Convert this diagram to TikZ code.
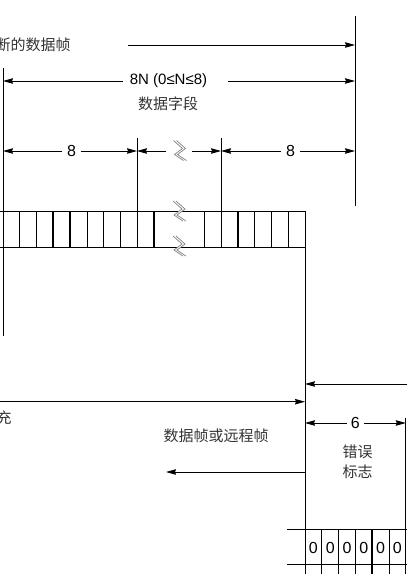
\documentclass[tikz,border=0pt]{standalone}
\usepackage{fontspec}
\setmainfont{Liberation Sans}
\newfontfamily\cjk{Noto Sans CJK SC}
\usetikzlibrary{arrows.meta}
\tikzset{
  arr/.style={-{Stealth[length=10pt,width=5.5pt,inset=1pt]}},
  thickcell/.style={line width=2pt},
  numlbl/.style={font=\fontsize{15}{15}\selectfont, inner sep=0pt},
  diglbl/.style={font=\fontsize{16}{16}\selectfont, inner sep=0pt},
  cjklbl/.style={font=\cjk\fontsize{15}{15}\selectfont, text=black!80, inner sep=0pt},
  brk/.pic={
    \fill[white] (-5,-10) -- (4,-2) -- (-4,4) -- (5,10) -- (8,10) -- (-1,4) -- (7,-2) -- (-2,-10) -- cycle;
    \draw[black!50, line width=0.7pt] (-5,-10) -- (4,-2) -- (-4,4) -- (5,10);
    \draw[black!50, line width=0.7pt] (-2,-10) -- (7,-2) -- (-1,4) -- (8,10);
  }
}
\begin{document}
\begin{tikzpicture}[x=1pt,y=-1pt,line width=0.9pt]
\useasboundingbox (0,0) rectangle (407,574);

% main vertical lines
\coordinate (L1t) at (3,68);   \coordinate (L1b) at (3,336);
\coordinate (R1t) at (355,16); \coordinate (R1b) at (355,206);
\coordinate (V1t) at (137,138); \coordinate (V1b) at (137,247);
\coordinate (V2t) at (221,138); \coordinate (V2b) at (221,247);
\coordinate (V3t) at (305,211); \coordinate (V3b) at (305,574);
\coordinate (V4t) at (405.8,418); \coordinate (V4b) at (405.8,574);
\draw (L1t) -- (L1b);
\draw (R1t) -- (R1b);
\draw (V1t) -- (V1b);
\draw (V2t) -- (V2b);
\draw (V3t) -- (V3b);
\draw (V4t) -- (V4b);

% top arrow
\node[cjklbl, anchor=east] (tA) at (71,45) {断的数据帧};
\coordinate (a1s) at (128,45); \coordinate (a1e) at (355,45);
\draw[arr] (a1s) -- (a1e);

% data field 8N
\node[numlbl] (n8N) at (168.5,81) {8N (0≤N≤8)};
\node[cjklbl] (tDF) at (168,104) {数据字段};
\coordinate (a2l) at (3,81); \coordinate (a2r) at (355,81);
\coordinate (g2l) at (123,81); \coordinate (g2r) at (228,81);
\draw[arr] (g2l) -- (a2l);
\draw[arr] (g2r) -- (a2r);

% row of byte dims
\node[diglbl] (n8a) at (71.5,151) {8};
\node[diglbl] (n8b) at (290.5,151) {8};
\coordinate (a3a) at (3,151);   \coordinate (a3b) at (137,151);
\coordinate (a3d) at (221,151); \coordinate (a3f) at (355,151);
\coordinate (g3a) at (62,151);  \coordinate (g3b) at (81,151);
\coordinate (g3c) at (166,151); \coordinate (g3d) at (192,151);
\coordinate (g3e) at (281,151); \coordinate (g3f) at (300,151);
\draw[arr] (g3a) -- (a3a);
\draw[arr] (g3b) -- (a3b);
\draw[arr] (g3c) -- (a3b);
\draw[arr] (g3d) -- (a3d);
\draw[arr] (g3e) -- (a3d);
\draw[arr] (g3f) -- (a3f);
\pic at (178.5,150.5) {brk};

% bit table
\draw (0,211) -- (305,211);
\draw (0,247) -- (305,247);
\foreach \k in {1,2,5,6,7} \draw (3+16.8*\k,211) -- (3+16.8*\k,247);
\foreach \k in {3,4,9} \draw[thickcell] (3+16.8*\k,211) -- (3+16.8*\k,247);
\foreach \xx in {204.2,254.6,271.4,288.2} \draw (\xx,211) -- (\xx,247);
\draw[thickcell] (237.8,211) -- (237.8,247);
\pic at (178,211) {brk};
\pic at (178,246) {brk};

% right side arrows
\coordinate (b1s) at (407,384); \coordinate (b1e) at (305,384);
\draw[arr] (b1s) -- (b1e);
\node[cjklbl, anchor=east] (tFill) at (12,418) {充};
\coordinate (b2s) at (0,401.7); \coordinate (b2e) at (305,401.7);
\draw[arr] (b2s) -- (b2e);

\node[diglbl] (n6) at (355.3,423) {6};
\coordinate (c6l) at (305,423); \coordinate (c6r) at (405.8,423);
\coordinate (g6l) at (346.5,423); \coordinate (g6r) at (364,423);
\draw[arr] (g6l) -- (c6l);
\draw[arr] (g6r) -- (c6r);
\node[cjklbl] (tE1) at (357.5,452) {错误};
\node[cjklbl] (tE2) at (357.5,472) {标志};

\node[cjklbl] (tDR) at (216,436) {数据帧或远程帧};
\coordinate (d1s) at (305,472); \coordinate (d1e) at (166,472);
\draw[arr] (d1s) -- (d1e);

% error flag bits
\draw (287,529) -- (407,529);
\draw (287,564) -- (407,564);
\foreach \k in {1,2,3,5,6} \draw (305+16.8*\k,529) -- (305+16.8*\k,574);
\draw[thickcell] (305+16.8*4,529) -- (305+16.8*4,574);
\foreach \k in {0,...,5} \node[diglbl] (z\k) at (313.4+16.8*\k,548) {0};
\end{tikzpicture}
\end{document}
